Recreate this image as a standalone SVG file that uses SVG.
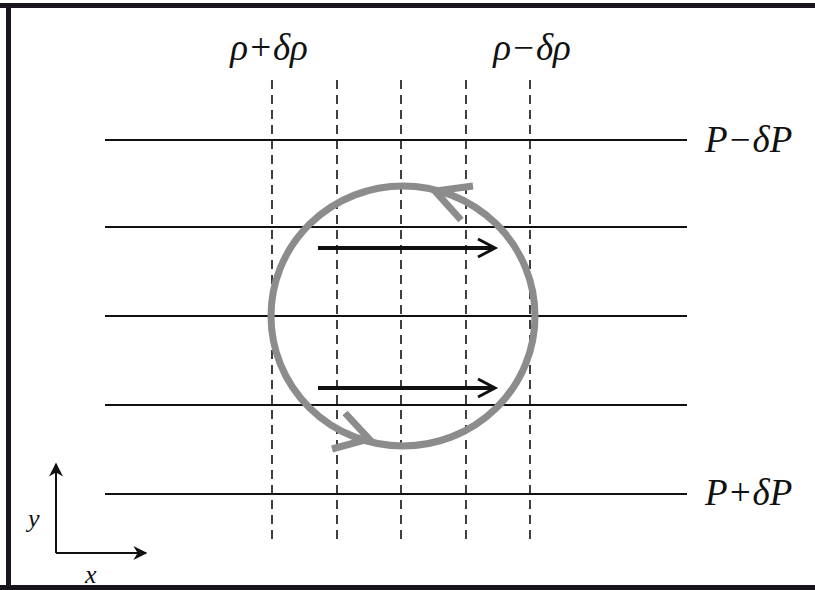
<svg xmlns="http://www.w3.org/2000/svg" width="815" height="590" viewBox="0 0 815 590">
<style>
.iso{stroke:#111;stroke-width:2;fill:none}
.den{stroke:#111;stroke-width:1.6;stroke-dasharray:9,6;fill:none}
.lbl{font-family:"Liberation Serif","DejaVu Serif",serif;font-style:italic;font-size:37px;fill:#111}
.ax{font-family:"Liberation Serif","DejaVu Serif",serif;font-style:italic;font-size:26px;fill:#111}
.flow{stroke:#111;stroke-width:4;fill:none}
.head{stroke:#111;stroke-width:3;fill:none}
.circ{stroke:#8c8c8c;stroke-width:7;fill:none}
</style>
<defs>
<marker id="axh" viewBox="0 0 10 10" refX="9" refY="5" markerWidth="18" markerHeight="14" markerUnits="userSpaceOnUse" orient="auto">
<path d="M0,0 L10,5 L0,10 L3,5 Z" fill="#111"/>
</marker>
</defs>
<rect width="815" height="590" fill="#fff"/>
<g id="frame" fill="#1a141c">
<rect x="0" y="3" width="815" height="5"/>
<rect x="6" y="3" width="5" height="587"/>
<rect x="0" y="585" width="815" height="5"/>
</g>
<g id="connectors">
<g id="isobars">
<line class="iso" x1="105" y1="140" x2="687" y2="140"/>
<line class="iso" x1="105" y1="227" x2="687" y2="227"/>
<line class="iso" x1="105" y1="316" x2="687" y2="316"/>
<line class="iso" x1="105" y1="405" x2="687" y2="405"/>
<line class="iso" x1="105" y1="494" x2="687" y2="494"/>
</g>
<g id="isopycnals">
<line class="den" x1="272" y1="80" x2="272" y2="545"/>
<line class="den" x1="337" y1="80" x2="337" y2="545"/>
<line class="den" x1="401" y1="80" x2="401" y2="545"/>
<line class="den" x1="466" y1="80" x2="466" y2="545"/>
<line class="den" x1="530" y1="80" x2="530" y2="545"/>
</g>
<g id="circulation">
<ellipse class="circ" cx="403" cy="316" rx="132" ry="130"/>
<polyline class="circ" points="473,186 435,191 461,220"/>
<polyline class="circ" points="332,449 369,439 345,413"/>
</g>
<g id="flow">
<line class="flow" x1="318" y1="248" x2="494" y2="248"/>
<polyline class="head" points="478,239 495,248 478,257"/>
<line class="flow" x1="318" y1="388" x2="494" y2="388"/>
<polyline class="head" points="478,379 495,388 478,397"/>
</g>
<g id="axes">
<line x1="56" y1="553" x2="56" y2="464" stroke="#111" stroke-width="2" marker-end="url(#axh)"/>
<line x1="56" y1="553" x2="146" y2="553" stroke="#111" stroke-width="2" marker-end="url(#axh)"/>
</g>
</g>
<g id="labels">
<text class="lbl" x="269" y="60" text-anchor="middle">ρ+δρ</text>
<text class="lbl" x="532" y="60" text-anchor="middle">ρ−δρ</text>
<text class="lbl" x="705" y="152">P−δP</text>
<text class="lbl" x="705" y="505">P+δP</text>
<text class="ax" x="28" y="527">y</text>
<text class="ax" x="85" y="583">x</text>
</g>
</svg>
